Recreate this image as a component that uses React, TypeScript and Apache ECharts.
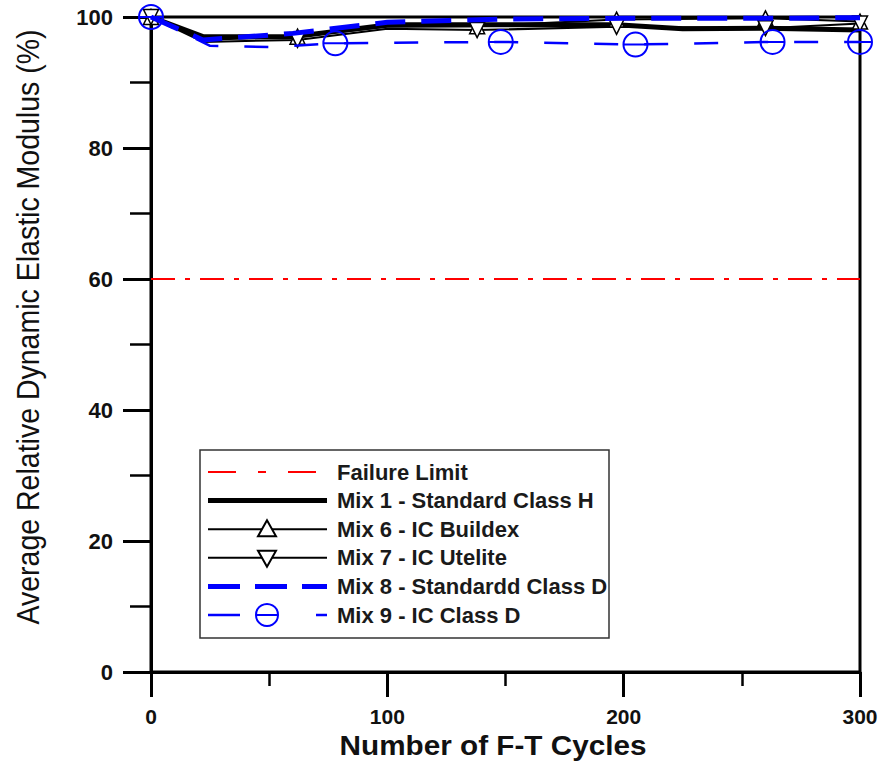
import React, { useEffect, useRef } from "react";
import * as echarts from "echarts";

// ---- data ----
const failureCycles = [0, 300];
const failureValues = [60, 60];

const mix1Cycles = [0, 22, 60, 100, 138, 197, 225, 260, 300];
const mix1Values = [100, 97.0, 97.0, 98.8, 98.8, 98.8, 98.2, 98.3, 98.0];

const mix6Cycles = [0, 22, 62, 100, 138, 197, 260, 300];
const mix6Values = [100, 96.5, 97.0, 98.5, 98.6, 99.6, 99.8, 99.3];
const mix6Marked = [true, false, true, false, true, true, true, true];

const mix7Cycles = [0, 22, 62, 100, 138, 197, 260, 300];
const mix7Values = [100, 96.2, 96.5, 98.2, 98.0, 98.5, 98.3, 99.0];
const mix7Marked = [true, false, true, false, true, true, true, true];

const mix8Cycles = [0, 22, 60, 100, 150, 200, 260, 300];
const mix8Values = [100, 96.5, 97.5, 99.2, 99.7, 99.8, 99.8, 99.9];

const mix9Cycles = [0, 25, 50, 78, 148, 205, 263, 300];
const mix9Values = [100, 95.6, 95.4, 96.0, 96.2, 95.8, 96.2, 96.2];
const mix9Marked = [true, false, false, true, true, true, true, true];

const seriesNames = [
  "Failure Limit",
  "Mix 1 - Standard Class H",
  "Mix 6 - IC Buildex",
  "Mix 7 - IC Utelite",
  "Mix 8 - Standardd Class D",
  "Mix 9 - IC Class D",
];

const xTicks = { min: 0, max: 300, interval: 100 };
const yTicks = { min: 0, max: 100, interval: 20 };

const xAxisTitle = "Number of F-T Cycles";
const yAxisTitle = "Average Relative Dynamic Elastic Modulus (%)";

// ---- styles ----
const RED = "#ff0000";
const BLUE = "#0000ff";
const BLACK = "#000000";
const FONT = '"Liberation Sans", Arial, sans-serif';
const THETA = "path://M0,12A12,12,0,1,1,24,12A12,12,0,1,1,0,12ZM0,12L24,12";

function pairs(xs: number[], ys: number[], marked?: boolean[]) {
  return xs.map((x, i) => {
    const item: any = { value: [x, ys[i]] };
    if (marked && !marked[i]) item.symbol = "none";
    return item;
  });
}

export default function App() {
  const ref = useRef<HTMLDivElement>(null);

  useEffect(() => {
    if (!ref.current) return;
    const chart = echarts.init(ref.current, null, { renderer: "svg" });

    // legend + axis titles as graphic elements (page coordinates; the div sits at 0,0)
    const lx0 = 208;
    const lx1 = 327;
    const lmid = 267;
    const ltext = 337;
    const rowY = (i: number) => 472 + i * 28.6;
    const graphics: any[] = [
      {
        type: "text",
        x: 28,
        y: 327,
        rotation: Math.PI / 2,
        scaleX: 0.92,
        style: {
          text: yAxisTitle,
          font: `31px ${FONT}`,
          fill: "#111",
          align: "center",
          verticalAlign: "middle",
        },
      },
      {
        type: "text",
        x: 493,
        y: 745,
        scaleX: 1.1,
        style: {
          text: xAxisTitle,
          font: `bold 27px ${FONT}`,
          fill: "#111",
          align: "center",
          verticalAlign: "middle",
        },
      },
      {
        type: "rect",
        shape: { x: 200, y: 450, width: 409, height: 188 },
        style: { fill: "#fff", stroke: "#333", lineWidth: 1.5 },
        z: 100,
      },
    ];
    const lineStyles: any[] = [
      { stroke: RED, lineWidth: 2, lineDash: [28, 22, 8, 22] },
      { stroke: BLACK, lineWidth: 5 },
      { stroke: BLACK, lineWidth: 2 },
      { stroke: BLACK, lineWidth: 2 },
      { stroke: BLUE, lineWidth: 5, lineDash: [32, 15] },
      { stroke: BLUE, lineWidth: 2.5, lineDash: [32, 76] },
    ];
    seriesNames.forEach((name, i) => {
      const y = rowY(i);
      graphics.push({
        type: "line",
        shape: { x1: lx0, y1: y, x2: lx1, y2: y },
        style: lineStyles[i],
        z: 101,
      });
      graphics.push({
        type: "text",
        style: {
          text: name,
          x: ltext,
          y: y,
          font: `bold 22px ${FONT}`,
          fill: "#1a1a1a",
          verticalAlign: "middle",
        },
        z: 101,
      });
    });
    // markers in legend
    const t6 = rowY(2);
    graphics.push({
      type: "polygon",
      shape: { points: [[lmid, t6 - 9], [lmid - 9, t6 + 7], [lmid + 9, t6 + 7]] },
      style: { fill: "#fff", stroke: BLACK, lineWidth: 2 },
      z: 102,
    });
    const t7 = rowY(3);
    graphics.push({
      type: "polygon",
      shape: { points: [[lmid, t7 + 9], [lmid - 9, t7 - 7], [lmid + 9, t7 - 7]] },
      style: { fill: "#fff", stroke: BLACK, lineWidth: 2 },
      z: 102,
    });
    const t9 = rowY(5);
    graphics.push({
      type: "circle",
      shape: { cx: lmid, cy: t9, r: 11 },
      style: { fill: "#fff", stroke: BLUE, lineWidth: 2 },
      z: 102,
    });
    graphics.push({
      type: "line",
      shape: { x1: lmid - 11, y1: t9, x2: lmid + 11, y2: t9 },
      style: { stroke: BLUE, lineWidth: 2 },
      z: 103,
    });

    const option: any = {
      animation: false,
      backgroundColor: "#ffffff",
      grid: {
        left: 151,
        right: 28,
        top: 17,
        bottom: 91,
        outerBoundsMode: "none",
        containLabel: false,
        show: true,
        borderColor: BLACK,
        borderWidth: 3,
        backgroundColor: "transparent",
      },
      xAxis: {
        type: "value",
        min: xTicks.min,
        max: xTicks.max,
        interval: xTicks.interval,
        axisLine: { show: true, onZero: false, lineStyle: { color: BLACK, width: 3 } },
        axisTick: { show: true, length: 25, lineStyle: { color: BLACK, width: 3 } },
        minorTick: { show: true, splitNumber: 2, length: 14, lineStyle: { color: BLACK, width: 2.5 } },
        splitLine: { show: false },
        axisLabel: { margin: 34, fontFamily: FONT, fontWeight: "bold", fontSize: 21, color: "#111" },
      },
      yAxis: {
        type: "value",
        min: yTicks.min,
        max: yTicks.max,
        interval: yTicks.interval,
        axisLine: { show: true, onZero: false, lineStyle: { color: BLACK, width: 3 } },
        axisTick: { show: true, length: 28, lineStyle: { color: BLACK, width: 3 } },
        minorTick: { show: true, splitNumber: 2, length: 21, lineStyle: { color: BLACK, width: 2.5 } },
        splitLine: { show: false },
        axisLabel: { margin: 38, fontFamily: FONT, fontWeight: "bold", fontSize: 22, color: "#111" },
      },
      graphic: graphics,
      series: [
        {
          name: seriesNames[0],
          type: "line",
          data: pairs(failureCycles, failureValues),
          showSymbol: false,
          symbol: "none",
          lineStyle: { color: RED, width: 2, type: [24, 10, 5, 10] },
          z: 2,
        },
        {
          name: seriesNames[1],
          type: "line",
          data: pairs(mix1Cycles, mix1Values),
          symbol: "none",
          lineStyle: { color: BLACK, width: 5 },
          z: 3,
        },
        {
          name: seriesNames[2],
          type: "line",
          data: pairs(mix6Cycles, mix6Values, mix6Marked),
          symbol: "triangle",
          symbolSize: 15,
          itemStyle: { color: "#fff", borderColor: BLACK, borderWidth: 1.5 },
          lineStyle: { color: BLACK, width: 2 },
          z: 4,
        },
        {
          name: seriesNames[3],
          type: "line",
          data: pairs(mix7Cycles, mix7Values, mix7Marked),
          symbol: "triangle",
          symbolRotate: 180,
          symbolSize: 15,
          itemStyle: { color: "#fff", borderColor: BLACK, borderWidth: 1.5 },
          lineStyle: { color: BLACK, width: 2 },
          z: 4,
        },
        {
          name: seriesNames[4],
          type: "line",
          data: pairs(mix8Cycles, mix8Values),
          symbol: "none",
          lineStyle: { color: BLUE, width: 5, type: [30, 16] },
          z: 5,
        },
        {
          name: seriesNames[5],
          type: "line",
          data: pairs(mix9Cycles, mix9Values, mix9Marked),
          symbol: THETA,
          symbolSize: 24,
          itemStyle: { color: "rgba(0,0,0,0)", borderColor: BLUE, borderWidth: 2 },
          lineStyle: { color: BLUE, width: 2.5, type: [24, 26] },
          z: 6,
        },
      ],
    };
    chart.setOption(option);
    return () => chart.dispose();
  }, []);

  return (
    <div
      ref={ref}
      style={{ position: "absolute", left: 0, top: 0, width: 888, height: 763 }}
    />
  );
}
